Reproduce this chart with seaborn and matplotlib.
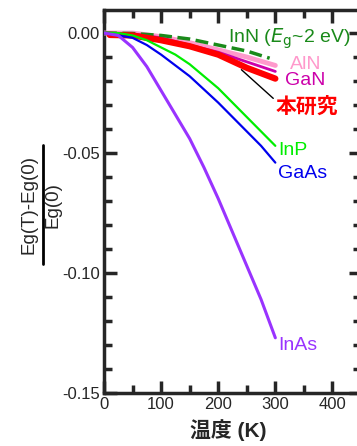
import matplotlib
matplotlib.use("Agg")
import matplotlib.pyplot as plt
import seaborn as sns
import pandas as pd
from matplotlib.ticker import MultipleLocator

# temperatures (K) and normalised band-gap shift (Eg(T)-Eg(0))/Eg(0)
T_REF = [0, 25, 50, 75, 100, 125, 150, 175, 200, 225, 250, 275, 300]
inas = [0, -0.001, -0.006, -0.014, -0.024, -0.034, -0.044, -0.056, -0.069, -0.083, -0.097, -0.111, -0.127]
gaas = [0, -0.001, -0.002, -0.005, -0.009, -0.0135, -0.018, -0.0235, -0.029, -0.035, -0.041, -0.047, -0.054]
inp = [0, 0, -0.001, -0.003, -0.006, -0.009, -0.013, -0.018, -0.023, -0.029, -0.035, -0.041, -0.047]

T_N = [0, 50, 100, 150, 200, 250, 300]
gan = [0, -0.0003, -0.002, -0.005, -0.008, -0.012, -0.016]
aln = [0, 0, -0.0015, -0.004, -0.007, -0.010, -0.0135]

T_INN = [0, 50, 100, 150, 200, 250, 290]
inn = [0, -0.0002, -0.001, -0.0025, -0.005, -0.0075, -0.0105]

T_THIS = [10, 50, 100, 150, 200, 250, 300]
this_work = [-0.0008, -0.001, -0.003, -0.0055, -0.009, -0.0145, -0.019]

FONT = ['Liberation Sans Narrow', 'Liberation Sans', 'Noto Sans CJK JP', 'DejaVu Sans']

sns.set_style("ticks")
plt.rcParams['font.family'] = FONT
plt.rcParams['mathtext.fontset'] = 'custom'
plt.rcParams['mathtext.rm'] = 'Liberation Sans Narrow'
plt.rcParams['mathtext.it'] = 'Liberation Sans Narrow:italic'

fig = plt.figure(figsize=(3.57, 4.46), dpi=100)
ax = fig.add_axes([104 / 357, 1 - 393 / 446, 257 / 357, 383 / 446])

series = [
    ("AlN", T_N, aln, "#ff99cc", 3.5, "-"),
    ("GaN", T_N, gan, "#cc00aa", 2.0, "-"),
    ("InN", T_INN, inn, "#1a8a1a", 2.5, "--"),
    ("本研究", T_THIS, this_work, "#ff0000", 4.5, "-"),
    ("InP", T_REF, inp, "#00ee00", 1.6, "-"),
    ("GaAs", T_REF, gaas, "#0000ee", 1.6, "-"),
    ("InAs", T_REF, inas, "#9933ff", 2.2, "-"),
]
for name, t, v, color, lw, ls in series:
    df = pd.DataFrame({"T": t, "v": v})
    sns.lineplot(data=df, x="T", y="v", ax=ax, color=color, linewidth=lw,
                 linestyle=ls, zorder=3)

ax.set_xlim(0, 450)
ax.set_ylim(-0.15, 0.0096)
ax.xaxis.set_major_locator(MultipleLocator(100))
ax.xaxis.set_minor_locator(MultipleLocator(50))
ax.yaxis.set_minor_locator(MultipleLocator(0.01))
ax.set_yticks([0, -0.05, -0.10, -0.15])
ax.set_yticklabels(["0.00", "-0.05", "-0.10", "-0.15"])
ax.set_xlabel("")
ax.set_ylabel("")

for s in ax.spines.values():
    s.set_linewidth(2.5)
ax.tick_params(which="both", direction="in", top=True, right=True,
               labelsize=12, pad=3)
ax.tick_params(which="major", length=9, width=2.5)
ax.tick_params(which="minor", length=6, width=2.5)

# curve labels
lab = dict(transform=ax.transAxes, fontsize=14, va="center", ha="left")
ax.text(0.482, 0.924, "InN ($E_{\\mathrm{g}}$~2 eV)", color="#1a8a1a", **lab)
ax.text(0.724, 0.859, "AlN", color="#ff99cc", **lab)
ax.text(0.704, 0.817, "GaN", color="#cc00aa", **lab)
ax.text(0.668, 0.747, "本研究", color="#ff0000", fontweight="bold",
        transform=ax.transAxes, fontsize=15, va="center", ha="left")
ax.annotate("", xy=(237, -0.0145), xytext=(300, -0.028),
            arrowprops=dict(arrowstyle="-", color="black", lw=1.0))
ax.text(0.677, 0.634, "InP", color="#00ee00", **lab)
ax.text(0.677, 0.572, "GaAs", color="#0000ee", **lab)
ax.text(0.677, 0.125, "InAs", color="#9933ff", **lab)

# axis titles
fig.text(228 / 357, 1 - 430 / 446, "温度 (K)", ha="center", va="center",
         fontsize=15, fontweight="bold")
fig.text(29 / 357, 1 - 205 / 446, "Eg(T)-Eg(0)", rotation=90, ha="center",
         va="center", fontsize=13.5)
fig.text(53 / 357, 1 - 205 / 446, "Eg(0)", rotation=90, ha="center",
         va="center", fontsize=13.5)
fig.add_artist(plt.Line2D([43 / 357, 43 / 357], [1 - 145 / 446, 1 - 264 / 446],
                          color="black", lw=2.0, transform=fig.transFigure))

fig.savefig("out.png", dpi=100)
